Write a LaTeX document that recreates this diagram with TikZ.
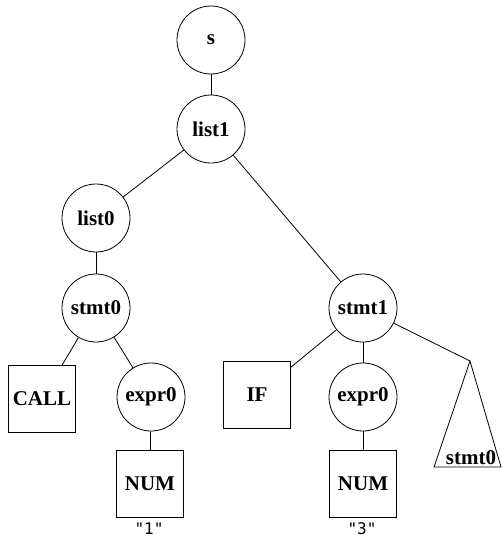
\documentclass[tikz,border=0pt]{standalone}
\usepackage{fontspec}
\setmainfont{Liberation Serif}
\newfontfamily\monof{DejaVu Sans Mono}
\begin{document}
\begin{tikzpicture}[x=1pt,y=-1pt,
  every node/.style={font=\fontsize{21}{24}\selectfont\bfseries},
  nt/.style={draw,circle,minimum size=68pt,inner sep=0pt,line width=0.8pt},
  tm/.style={draw,rectangle,minimum size=67pt,inner sep=0pt,line width=0.8pt},
  lbl/.style={font=\monof\fontsize{16}{18}\selectfont,inner sep=0pt},
  edge/.style={line width=0.8pt}]
\useasboundingbox (0,0) rectangle (502,538);
\node[nt] (s) at (211,40) {s};
\node[nt] (list1) at (211,129) {list1};
\node[nt] (list0) at (96,218) {list0};
\node[nt] (stmt0) at (96,308) {stmt0};
\node[nt] (stmt1) at (363,308) {stmt1};
\node[tm] (call) at (42,399) {CALL};
\node[nt] (expr0l) at (151,397) {expr0};
\node[tm] (numl) at (150,484) {NUM};
\node[tm] (if) at (257,395) {IF};
\node[nt] (expr0r) at (363,397) {expr0};
\node[tm] (numr) at (363,484) {NUM};
\node[lbl] (v1) at (149,529) {"1"};
\node[lbl] (v3) at (362,529) {"3"};
\coordinate (apex) at (470,361);
\coordinate (bl) at (434,467);
\coordinate (br) at (501,467);
\draw[edge] (apex) -- (bl) -- (br) -- cycle;
\node[anchor=base,inner sep=0pt] (sub) at (471,464) {stmt0};
\draw[edge] (s) -- (list1);
\draw[edge] (list1) -- (list0);
\draw[edge] (list1) -- (stmt1);
\draw[edge] (list0) -- (stmt0);
\draw[edge] (stmt0) -- (call);
\draw[edge] (stmt0) -- (expr0l);
\draw[edge] (expr0l) -- (numl);
\draw[edge] (stmt1) -- (if);
\draw[edge] (stmt1) -- (expr0r);
\draw[edge] (stmt1) -- (apex);
\draw[edge] (expr0r) -- (numr);
\end{tikzpicture}
\end{document}
